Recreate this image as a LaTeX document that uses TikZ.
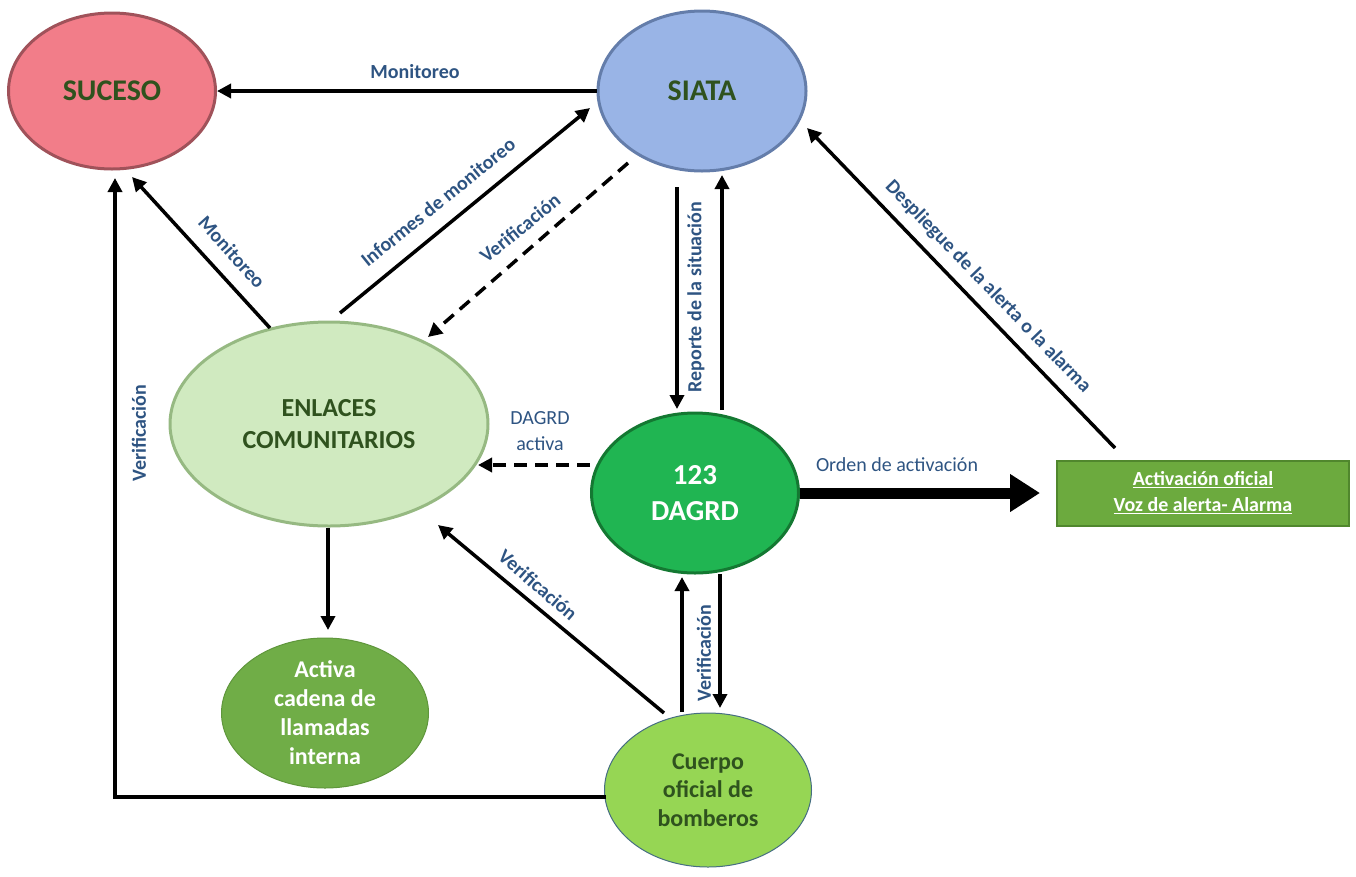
\documentclass[tikz,border=0pt]{standalone}
\usepackage{fontspec}
\setmainfont{Carlito}
\usetikzlibrary{shapes.geometric,arrows.meta,calc}
\definecolor{sucfill}{RGB}{242,125,137}
\definecolor{sucbord}{RGB}{160,82,90}
\definecolor{siafill}{RGB}{153,180,230}
\definecolor{siabord}{RGB}{100,125,170}
\definecolor{enlfill}{RGB}{208,234,192}
\definecolor{enlbord}{RGB}{150,185,130}
\definecolor{dagfill}{RGB}{32,181,82}
\definecolor{dagbord}{RGB}{20,120,50}
\definecolor{actfill}{RGB}{112,173,71}
\definecolor{actbord}{RGB}{95,150,60}
\definecolor{bomfill}{RGB}{150,214,84}
\definecolor{bombord}{RGB}{70,110,130}
\definecolor{boxfill}{RGB}{108,170,62}
\definecolor{boxbord}{RGB}{80,135,45}
\definecolor{labblue}{RGB}{46,84,130}
\definecolor{txtgreen}{RGB}{47,82,30}
\tikzset{
  ell/.style={ellipse, inner sep=0pt, align=center, line width=3pt},
  arr/.style={line width=3.5pt, -{Triangle[length=14pt,width=14pt]}},
  darr/.style={arr, dash pattern=on 13pt off 8pt},
  thick arr/.style={line width=11pt, -{Triangle[length=30pt,width=36pt]}},
  lab/.style={text=labblue, font=\fontsize{20}{22}\selectfont\bfseries, inner sep=0pt},
  labr/.style={text=labblue, font=\fontsize{20}{26}\selectfont, inner sep=0pt, align=center},
}
\begin{document}
\begin{tikzpicture}[x=1pt,y=-1pt]
\useasboundingbox (0,0) rectangle (1356,876);
% nodes
\node[ell, fill=sucfill, draw=sucbord, minimum width=207pt, minimum height=156pt,
      text=txtgreen, font=\fontsize{30}{34}\selectfont\bfseries] (suc) at (112,91) {SUCESO};
\node[ell, fill=siafill, draw=siabord, minimum width=208pt, minimum height=160pt,
      text=txtgreen, font=\fontsize{30}{34}\selectfont\bfseries] (sia) at (702,91) {SIATA};
\node[ell, fill=enlfill, draw=enlbord, minimum width=318pt, minimum height=204pt,
      text=txtgreen, font=\fontsize{26}{32}\selectfont\bfseries] (enl) at (329,424) {ENLACES\\COMUNITARIOS};
\node[ell, fill=dagfill, draw=dagbord, minimum width=207pt, minimum height=160pt,
      text=white, font=\fontsize{29}{36}\selectfont\bfseries] (dag) at (695,493) {123\\DAGRD};
\node[ell, fill=actfill, draw=actbord, line width=1pt, minimum width=207pt, minimum height=150pt,
      text=white, font=\fontsize{24}{29}\selectfont\bfseries] (act) at (325,713) {Activa\\cadena de\\llamadas\\interna};
\node[ell, fill=bomfill, draw=bombord, line width=1pt, minimum width=207pt, minimum height=154pt,
      text=txtgreen, font=\fontsize{24}{28.5}\selectfont\bfseries] (bom) at (708,790) {Cuerpo\\oficial de\\bomberos};
\node[rectangle, fill=boxfill, draw=boxbord, line width=2pt, minimum width=292pt, minimum height=65pt,
      inner sep=0pt, align=center, text=white, font=\fontsize{20}{26}\selectfont\bfseries] (box) at (1203,493)
      {\underline{Activación oficial}\\\underline{Voz de alerta- Alarma}};
% connectors
\draw[arr] (sia.west) -- (suc.east);
\draw[arr] ($(enl)+(-59,-96)$) -- ($(suc)+(20,86)$);
\draw[arr] ($(enl)+(11,-111)$) -- ($(sia)+(-112,17)$);
\draw[darr] ($(sia)+(-74,72)$) -- ($(enl)+(99,-87)$);
\draw[arr] ($(sia)+(-25,96)$) -- ($(dag)+(-18,-84)$);
\draw[arr] ($(dag)+(27,-83)$) -- ($(sia)+(20,84)$);
\draw[arr] ($(box)+(-88,-45)$) -- ($(sia)+(105,37)$);
\draw[darr] ($(dag)+(-105,-28)$) -- ($(enl)+(149,41)$);
\draw[thick arr] (dag.east) -- ($(box)+(-163,0)$);
\draw[arr] ($(enl)+(-1,104)$) -- ($(act)+(3,-83)$);
\draw[arr] ($(bom)+(-44,-77)$) -- ($(enl)+(109,101)$);
\draw[arr] ($(bom)+(-26,-78)$) -- ($(dag)+(-13,84)$);
\draw[arr] ($(dag)+(25,81)$) -- ($(bom)+(12,-82)$);
\draw[arr] ($(bom)+(-102,7)$) -| ($(suc)+(3,87)$);
% labels
\node[lab] (l1) at (415,72) {Monitoreo};
\node[lab, rotate=-48] (l2) at (232,252) {Monitoreo};
\node[lab, rotate=39] (l3) at (438,202) {Informes de monitoreo};
\node[lab, rotate=39] (l4) at (520,228) {Verificación};
\node[lab, rotate=90] (l5) at (696,297) {Reporte de la situación};
\node[lab, rotate=-46] (l6) at (988,287) {Despliegue de la alerta o la alarma};
\node[labr] (l7) at (540,431) {DAGRD\\activa};
\node[labr] (l8) at (897,465) {Orden de activación};
\node[lab, rotate=-41] (l9) at (538,585) {Verificación};
\node[lab, rotate=90] (l10) at (704,653) {Verificación};
\node[lab, rotate=90] (l11) at (139,433) {Verificación};
\end{tikzpicture}
\end{document}
